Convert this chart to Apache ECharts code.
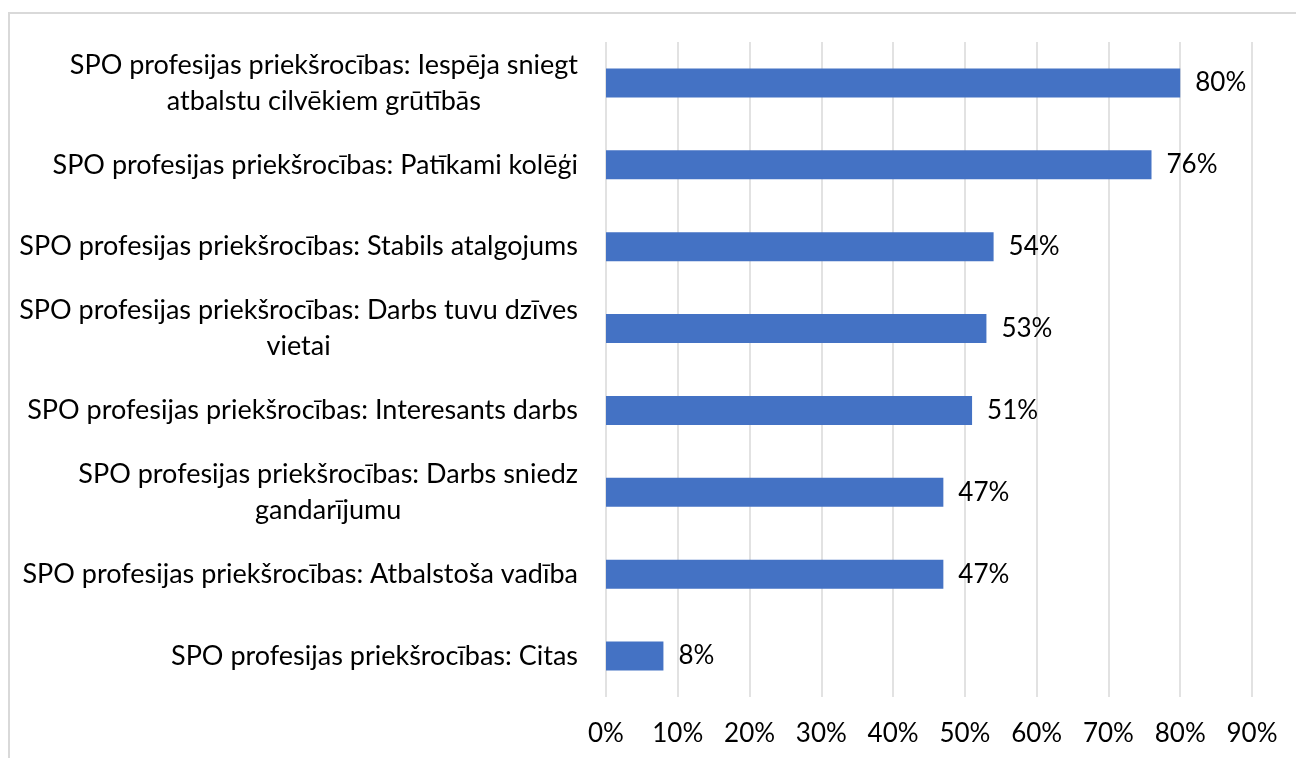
<!DOCTYPE html>
<html>
<head>
<meta charset="utf-8">
<script src="https://cdn.jsdelivr.net/npm/echarts@6/dist/echarts.min.js"></script>
<style>
  html, body { margin: 0; padding: 0; background: #fff; }
  #main { width: 1296px; height: 758px; }
</style>
</head>
<body>
<div id="main"></div>
<script>
// kategorijas (no apakšas uz augšu, kā asī)
var categories = [
  'SPO profesijas priekšrocības: Citas',
  'SPO profesijas priekšrocības: Atbalstoša vadība',
  'SPO profesijas priekšrocības: Darbs sniedz\ngandarījumu',
  'SPO profesijas priekšrocības: Interesants darbs',
  'SPO profesijas priekšrocības: Darbs tuvu dzīves\nvietai',
  'SPO profesijas priekšrocības: Stabils atalgojums',
  'SPO profesijas priekšrocības: Patīkami kolēģi',
  'SPO profesijas priekšrocības: Iespēja sniegt\natbalstu cilvēkiem grūtībās'
];
var values = [8, 47, 47, 51, 53, 54, 76, 80];
var xMax = 90;
var xStep = 10;

var font = 'Lato';
var fs = 26;
var catFs = 27;
var chart = echarts.init(document.getElementById('main'));

var option = {
  animation: false,
  textStyle: { fontFamily: font },
  graphic: [{
    type: 'rect',
    shape: { x: 9, y: 13, width: 2000, height: 2000 },
    style: { fill: 'none', stroke: '#d9d9d9', lineWidth: 2 },
    silent: true
  }],
  grid: { left: 606, right: 44, top: 42, bottom: 61 },
  xAxis: {
    type: 'value',
    min: 0,
    max: xMax,
    interval: xStep,
    axisLine: { show: false },
    axisTick: { show: false },
    splitLine: { lineStyle: { color: '#d9d9d9', width: 1.5 } },
    axisLabel: {
      margin: 24,
      fontSize: fs,
      color: '#000',
      formatter: '{value}%'
    }
  },
  yAxis: {
    type: 'category',
    data: categories,
    axisLine: { show: false },
    axisTick: { show: false },
    axisLabel: {
      margin: 28,
      fontSize: catFs,
      color: '#000',
      lineHeight: 36,
      formatter: function (v) {
        return v.split('\n').map(function (l) { return '{c|' + l + '}'; }).join('\n');
      },
      rich: {
        c: { align: 'center', fontSize: catFs, lineHeight: 36, color: '#000', fontFamily: font }
      }
    }
  },
  series: [{
    type: 'bar',
    data: values,
    barWidth: 29,
    itemStyle: { color: '#4472C4' },
    label: {
      show: true,
      position: 'right',
      distance: 15,
      fontSize: fs,
      color: '#000',
      formatter: '{c}%'
    }
  }]
};

chart.setOption(option);
</script>
</body>
</html>
